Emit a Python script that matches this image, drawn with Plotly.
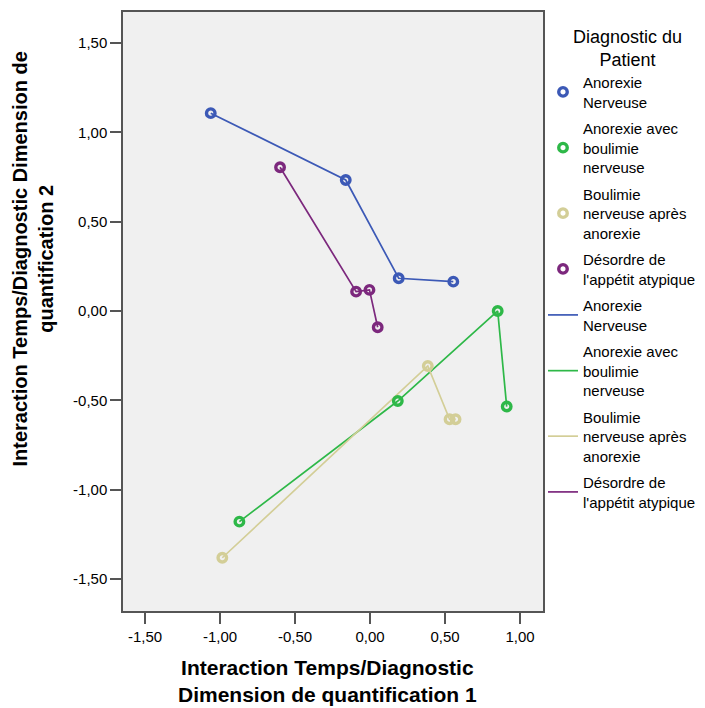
import plotly.graph_objects as go

# ---- data ----
groups = ["Anorexie<br>Nerveuse",
          "Anorexie avec<br>boulimie<br>nerveuse",
          "Boulimie<br>nerveuse après<br>anorexie",
          "Désordre de<br>l'appétit atypique"]
colors = ["#3C59B6", "#2EB848", "#D3CE97", "#7C287D"]

an_x = [-1.062, -0.162, 0.191, 0.555]
an_y = [1.107, 0.733, 0.183, 0.164]
abn_x = [-0.871, 0.185, 0.851, 0.911]
abn_y = [-1.179, -0.504, 0.000, -0.535]
bna_x = [-0.985, 0.385, 0.530, 0.570]
bna_y = [-1.381, -0.308, -0.606, -0.606]
dat_x = [-0.600, -0.093, -0.004, 0.051]
dat_y = [0.804, 0.108, 0.118, -0.091]

xs = [an_x, abn_x, bna_x, dat_x]
ys = [an_y, abn_y, bna_y, dat_y]

tick_vals = [-1.5, -1.0, -0.5, 0.0, 0.5, 1.0, 1.5]
tick_text = ["-1,50", "-1,00", "-0,50", "0,00", "0,50", "1,00", "1,50"]
x_tick_vals = tick_vals[:-1]
x_tick_text = tick_text[:-1]

fig = go.Figure()

# lines first (drawn beneath), listed second in legend
for i, (name, c, x, y) in enumerate(zip(groups, colors, xs, ys)):
    fig.add_trace(go.Scatter(
        x=x, y=y, mode="lines", name=name,
        line=dict(color=c, width=1.7),
        legendrank=10 + i, legendgroup="l%d" % i))
# markers, listed first in legend
for i, (name, c, x, y) in enumerate(zip(groups, colors, xs, ys)):
    fig.add_trace(go.Scatter(
        x=x, y=y, mode="markers", name=name,
        marker=dict(symbol="circle-open", size=8.5, color=c, line=dict(width=3.4, color=c)),
        legendrank=1 + i, legendgroup="m%d" % i))

font_family = "Liberation Sans, Arial, sans-serif"

fig.update_layout(
    width=705, height=708,
    margin=dict(l=123, r=162, t=12, b=97, autoexpand=False),
    paper_bgcolor="white",
    plot_bgcolor="#F0F0F0",
    font=dict(family=font_family, color="#000000"),
    showlegend=True,
    legend=dict(
        x=1.0, xanchor="left", y=0.91, yanchor="top",
        traceorder="grouped",
        font=dict(size=15, family=font_family, color="#000000"),
        bgcolor="rgba(0,0,0,0)", borderwidth=0,
        tracegroupgap=4, itemwidth=30,
    ),
    xaxis=dict(
        range=[-1.647, 1.153], tickvals=x_tick_vals, ticktext=x_tick_text,
        showgrid=False, zeroline=False,
        showline=True, mirror=True, linecolor="#555555", linewidth=1.5,
        ticks="outside", ticklen=11, tickwidth=2, tickcolor="#555555",
        tickfont=dict(size=15, family=font_family),
    ),
    yaxis=dict(
        range=[-1.679, 1.673], tickvals=tick_vals, ticktext=tick_text,
        showgrid=False, zeroline=False,
        showline=True, mirror=True, linecolor="#555555", linewidth=1.5,
        ticks="outside", ticklen=11, tickwidth=2, tickcolor="#555555",
        tickfont=dict(size=15, family=font_family),
    ),
    annotations=[
        dict(text="<b>Interaction Temps/Diagnostic<br>Dimension de quantification 1</b>",
             xref="paper", yref="paper", x=0.488, y=-0.071, xanchor="center", yanchor="top",
             showarrow=False, font=dict(size=21, family=font_family), align="center"),
        dict(text="<b>Interaction Temps/Diagnostic Dimension de<br>quantification 2</b>",
             xref="paper", yref="paper", x=-0.215, y=0.588, xanchor="center", yanchor="middle",
             textangle=-90, showarrow=False, font=dict(size=20, family=font_family), align="center"),
        dict(text="Diagnostic du<br>Patient",
             xref="paper", yref="paper", x=1.2, y=0.939, xanchor="center", yanchor="middle",
             showarrow=False, font=dict(size=18, family=font_family), align="center"),
    ],
)

fig.write_html("out.html", config={"displayModeBar": False},
               post_script="document.body.style.margin='0';document.body.style.overflow='hidden';")
